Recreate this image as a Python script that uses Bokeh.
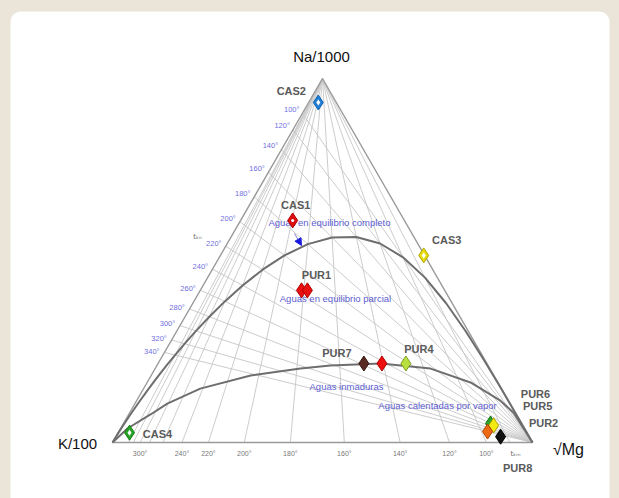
import numpy as np
from bokeh.plotting import figure
from bokeh.models import Range1d, BoxAnnotation, Arrow, NormalHead, ColumnDataSource
from bokeh.core.properties import value
from bokeh.embed import file_html
from bokeh.resources import INLINE

# ---------------- data ----------------
# Sample compositions in % of (Na/1000, K/100, sqrt(Mg))
sample_names = ["CAS2", "CAS1", "CAS3", "CAS4", "PUR1", "PUR1b", "PUR7", "PUR7b", "PUR4",
                "PUR6", "PUR5", "PUR2", "PUR8"]
sample_na = [93.4, 61.0, 51.4, 2.7, 41.8, 41.8, 21.7, 21.7, 21.7, 5.2, 4.7, 3.0, 1.6]
sample_k = [4.3, 26.6, 0.2, 94.6, 34.1, 32.7, 29.3, 25.0, 19.3, 7.4, 6.9, 9.2, 6.8]
sample_mg = [2.3, 12.4, 48.4, 2.7, 24.1, 25.5, 49.0, 53.3, 59.0, 87.4, 88.4, 87.8, 91.6]
sample_fill = ["#1f7fd6", "#e01010", "#e6dc10", "#27a327", "#e81010", "#e81010", "#5a2a22",
               "#ee1010", "#b8e040", "#2aa52a", "#f2ea10", "#ee6a12", "#111111"]
sample_line = ["#1060b0", "#b00000", "#b0a800", "#108010", "#b00000", "#b00000", "#3a1a12",
               "#b00000", "#80a020", "#107010", "#b0a000", "#b04000", "#000000"]
sample_hole = ["diamond", "dot", "diamond", "diamond", None, None, None, None, None,
               None, None, None, None]
sample_label = ["CAS2", "CAS1", "CAS3", "CAS4", "PUR1", "", "PUR7", "", "PUR4",
                "PUR6", "PUR5", "PUR2", "PUR8"]

# Temperatures of the geothermometer grid (deg C)
tkn_temps = [100, 120, 140, 160, 180, 200, 220, 240, 260, 280, 300, 320, 340]
tkm_temps = [80, 100, 120, 140, 160, 180, 200, 220, 240, 260, 280, 300, 320, 340]
tkm_labels = [300, 240, 220, 200, 180, 160, 140, 120, 100]
full_eq_temps = [1200, 900, 700, 560, 480, 430, 400, 380, 360, 340, 320, 300, 280, 260, 240,
                 220, 200, 180, 160, 140, 120, 100, 80, 60, 40, 20, 0, -20, -40, -60, -80,
                 -100, -130, -160]

# "Immature waters" boundary (% Na, K, Mg)
imm_na = [0.0, 3.85, 7.7, 10.7, 14.8, 18.4, 20.3, 21.15, 21.7, 20.3, 16.5, 11.5, 8.2, 0.0]
imm_mg = [0.0, 1.65, 5.2, 7.7, 13.5, 23.7, 34.6, 41.3, 53.0, 65.6, 77.0, 86.6, 91.4, 100.0]

# ---------------- layout ----------------
KX, KY = 112.0, 442.0
NX, NY = 322.0, 78.0
MX, MY = 532.0, 442.0


def tern(na, k, mg):
    na = np.asarray(na, float); k = np.asarray(k, float); mg = np.asarray(mg, float)
    s = na + k + mg
    fn, fk, fm = na / s, k / s, mg / s
    return KX * fk + NX * fn + MX * fm, KY * fk + NY * fn + MY * fm


def nak_ratio(t):  # Na/K from Giggenbach tkn
    return 10 ** (1390.0 / (np.asarray(t, float) + 273.15) - 1.75)


def kmg_q(t):  # (K/100)/sqrt(Mg) from Giggenbach tkm
    lk2mg = 14.0 - 4410.0 / (np.asarray(t, float) + 273.15)
    return 10 ** (lk2mg / 2.0 - 2.0)


p = figure(width=619, height=498, x_range=Range1d(0, 619), y_range=Range1d(498, 0),
           output_backend="svg", toolbar_location=None, min_border=0)
p.axis.visible = False
p.grid.visible = False
p.outline_line_color = None
p.background_fill_color = "#ebe5d9"
p.border_fill_color = "#ebe5d9"

p.add_layout(BoxAnnotation(left=10, right=609, top=11, bottom=540, fill_color="white",
                           fill_alpha=1, line_color=None, border_radius=10, level="underlay"))

grid_col = "#c6c6c6"
# Na-K lines: from Mg vertex to Na-K edge
for t in tkn_temps:
    r = nak_ratio(t)
    ex, ey = tern(r / 1000.0, 1 / 100.0, 0.0)
    p.line([float(MX), float(ex)], [float(MY), float(ey)], line_color=grid_col, line_width=0.9)
    dx, dy = ex - MX, ey - MY
    d = np.hypot(dx, dy)
    p.text([float(ex + 5 * dx / d)], [float(ey + 5 * dy / d)], text=[f"{t}°"],
           text_font=value("Liberation Sans"), text_font_size="7.5px",
           text_color="#6f6fe0", text_align="right", text_baseline="middle")

# K-Mg lines: from Na vertex to K-Mg edge
for t in tkm_temps:
    q = kmg_q(t)
    ex, ey = tern(0.0, q, 1.0)
    p.line([float(NX), float(ex)], [float(NY), float(ey)], line_color=grid_col, line_width=0.9)
    if t in tkm_labels:
        p.text([float(ex)], [float(ey + 11)], text=[f"{t}°"],
               text_font=value("Liberation Sans"), text_font_size="7px",
               text_color="#777777", text_align="center", text_baseline="middle")

# triangle
p.line([KX, NX, MX, KX], [KY, NY, MY, KY], line_color="#9a9a9a", line_width=1.4)

# full equilibrium curve
r = nak_ratio(full_eq_temps)
q = kmg_q(full_eq_temps)
fx, fy = tern(r / 10.0, np.ones_like(r), 1.0 / q)
p.line(list(np.r_[KX, fx, MX]), list(np.r_[KY, fy, MY]), line_color="#6e6e6e", line_width=2)

# immature waters curve
imm_k = [100 - a - b for a, b in zip(imm_na, imm_mg)]
ix, iy = tern(imm_na, imm_k, imm_mg)
p.line(list(ix), list(iy), line_color="#6e6e6e", line_width=2)

# region texts
blue = "#5c5cd0"
reg_text = ["Aguas en equilibrio completo", "Aguas en equilibrio parcial",
            "Aguas inmaduras", "Aguas calentadas por vapor"]
reg_x = [329, 335, 346, 437]
reg_y = [222, 298, 386, 405]
p.text(reg_x, reg_y, text=reg_text, text_font=value("Liberation Sans"), text_font_size="9.5px",
       text_color=blue, text_align="center", text_baseline="middle")
p.add_layout(Arrow(end=NormalHead(size=7, fill_color="#1a1ae0", line_color="#1a1ae0"),
                   x_start=294, y_start=233, x_end=301, y_end=245,
                   line_color=blue, line_width=0.8))

p.text([197, 515], [236, 453], text=["tₖₙ", "tₖₘ"], text_font=value("DejaVu Sans"),
       text_font_size="7px", text_color="#666666", text_align="center",
       text_baseline="middle")

# samples
sx, sy = tern(sample_na, sample_k, sample_mg)
src = ColumnDataSource(dict(x=sx, y=sy, fill=sample_fill, line=sample_line))
p.scatter("x", "y", source=src, marker="diamond", size=15, fill_color="fill",
          line_color="line", line_width=1)
hx = [x for x, h in zip(sx, sample_hole) if h == "diamond"]
hy = [y for y, h in zip(sy, sample_hole) if h == "diamond"]
p.scatter(hx, hy, marker="diamond", size=6, fill_color="white", line_color=None)
dx_ = [x for x, h in zip(sx, sample_hole) if h == "dot"]
dy_ = [y for y, h in zip(sy, sample_hole) if h == "dot"]
p.scatter(dx_, dy_, marker="circle", size=3, fill_color="white", line_color=None)

lab_dx = [-27, 3, 23, 28, 15, 0, -27, 0, 13, 45, 44, 56, 17]
lab_dy = [-12, -15, -15, 1, -15, 0, -11, 0, -15, -30, -19, -9, 31]
lx = [x + d for x, d in zip(sx, lab_dx)]
ly = [y + d for y, d in zip(sy, lab_dy)]
p.text(lx, ly, text=sample_label, text_font=value("Liberation Sans"), text_font_size="11px",
       text_font_style="bold", text_color="#5a5a5a", text_align="center",
       text_baseline="middle")

# vertex titles
p.text([321], [56], text=["Na/1000"], text_font=value("Liberation Sans"), text_font_size="15px",
       text_color="#111111", text_align="center", text_baseline="middle")
p.text([77], [443], text=["K/100"], text_font=value("Liberation Sans"), text_font_size="15px",
       text_color="#111111", text_align="center", text_baseline="middle")
p.text([568], [449], text=["√Mg"], text_font=value("Liberation Sans"), text_font_size="16px",
       text_color="#111111", text_align="center", text_baseline="middle")

html = file_html(p, INLINE)
html = html.replace("<head>", "<head><style>body{background:#ebe5d9;}</style>", 1)
open("out.html", "w").write(html)
